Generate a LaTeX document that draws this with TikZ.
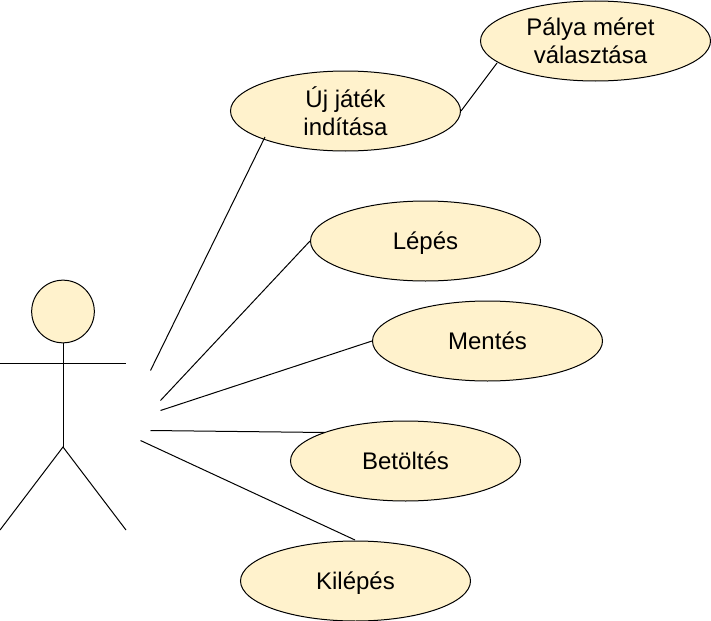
\documentclass[tikz,border=0pt]{standalone}
\usepackage{fontspec}
\setmainfont{Liberation Sans}
\usetikzlibrary{shapes.geometric}
\definecolor{fillc}{HTML}{FFF2CC}
\tikzset{
 x=0.75pt,y=-0.75pt,
 usecase/.style={ellipse,draw=black,fill=fillc,line width=0.75pt,minimum width=172.5pt,minimum height=60pt,inner sep=0pt,align=center,font=\fontsize{18pt}{20.6pt}\selectfont},
 oneline/.style={usecase,text height=16pt,text depth=3.2pt},
 link/.style={draw=black,line width=0.75pt},
 actorline/.style={draw=black,line width=0.75pt}
}
\begin{document}
\begin{tikzpicture}
\useasboundingbox (0,0) rectangle (711,621);
\node[usecase] (uj) at (345.5,111) {Új játék\\indítása};
\node[usecase] (palya) at (595.5,41) {Pálya méret\hspace*{7.5pt}\\választása\hspace*{7.5pt}};
\node[oneline] (lepes) at (425.5,241) {Lépés};
\node[oneline] (mentes) at (487.5,341) {Mentés};
\node[oneline] (betoltes) at (405.5,461) {Betöltés};
\node[oneline] (kilepes) at (355.5,581) {Kilépés};
\node[circle,draw=black,fill=fillc,line width=0.75pt,minimum size=47pt,inner sep=0pt] (head) at (63,311.5) {};
\coordinate (hip) at (63,447);
\coordinate (armL) at (0,363.7);
\coordinate (armR) at (126,363.7);
\coordinate (footL) at (0,530);
\coordinate (footR) at (126,530);
\draw[actorline] (head.south) -- (hip);
\draw[actorline] (armL) -- (armR);
\draw[actorline] (footL) -- (hip) -- (footR);
\coordinate (a1) at (150.5,370.5);
\coordinate (a2) at (160.5,400.5);
\coordinate (a3) at (160.5,410.5);
\coordinate (a4) at (150.5,430.5);
\coordinate (a5) at (140.5,440.5);
\draw[link] (a1) -- (265,137);
\draw[link] (a2) -- (lepes.west);
\draw[link] (a3) -- (mentes.west);
\draw[link] (a4) -- (325,432.5);
\draw[link] (a5) -- (355,540);
\draw[link] (uj.east) -- (497,63);
\end{tikzpicture}
\end{document}
